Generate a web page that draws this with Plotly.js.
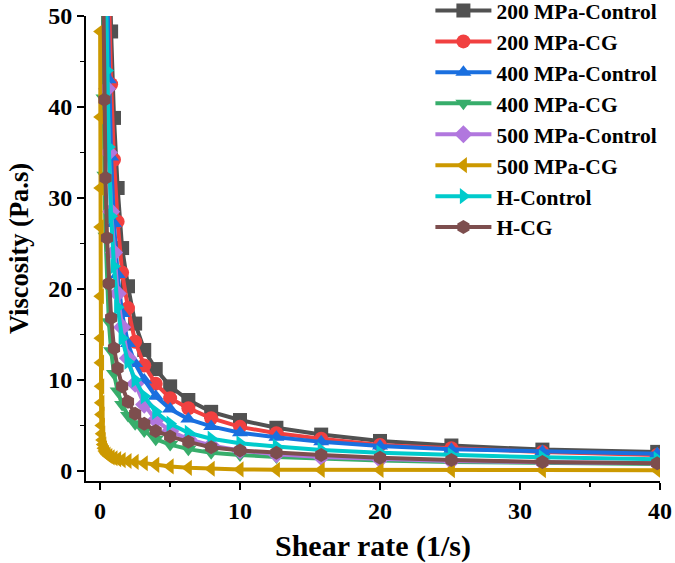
<!DOCTYPE html>
<html>
<head>
<meta charset="utf-8">
<script src="https://cdn.plot.ly/plotly-3.0.1.min.js"></script>
<style>
  html, body { margin: 0; padding: 0; background: #ffffff; }
  #chart { width: 675px; height: 563px; }
</style>
</head>
<body>
<div id="chart"></div>
<script>
// Shear rate grid (1/s), log-spaced, 10 points per decade
const shearRate = [0.01, 0.0126, 0.0158, 0.02, 0.0251, 0.0316, 0.0398, 0.0501, 0.0631, 0.0794,
  0.1, 0.126, 0.158, 0.2, 0.251, 0.316, 0.398, 0.501, 0.631, 0.794,
  1, 1.26, 1.58, 2, 2.51, 3.16, 3.98, 5.01, 6.31, 7.94,
  10, 12.6, 15.8, 20, 25.1, 31.6, 39.8];

const seriesNames = ["200 MPa-Control", "200 MPa-CG", "400 MPa-Control", "400 MPa-CG",
  "500 MPa-Control", "500 MPa-CG", "H-Control", "H-CG"];

// Viscosity (Pa.s); null = off the visible range (not drawn)
const visc200Control = [null, null, null, null, null, null, null, null, null, null,
  null, null, null, null, null, null, null, null, 60, 48.3,
  38.8, 31.1, 24.5, 20.3, 16.2, 13.3, 11.2, 9.3, 7.8, 6.5,
  5.6, 4.75, 4.0, 3.3, 2.8, 2.35, 2.1];
const visc200CG = [null, null, null, null, null, null, null, null, null, null,
  null, null, null, null, null, null, null, null, 53, 42.5,
  34.2, 27.4, 21.8, 17.9, 14.2, 11.6, 9.6, 8.0, 6.9, 5.8,
  4.85, 4.15, 3.55, 2.85, 2.5, 2.1, 1.75];
const visc400Control = [null, null, null, null, null, null, null, null, null, null,
  null, null, null, null, null, null, null, 54, 43, 34.5,
  27.2, 21.6, 17.3, 14.0, 11.8, 10.0, 8.2, 6.8, 5.7, 4.9,
  4.2, 3.7, 3.2, 2.75, 2.4, 2.15, 1.9];
const visc400CG = [null, null, null, null, null, null, null, null, null, null,
  null, null, null, 52, 41, 32.5, 25.8, 20.5, 16.4, 13.2,
  10.7, 8.8, 7.3, 6.1, 5.2, 4.4, 3.5, 2.9, 2.4, 2.0,
  1.75, 1.55, 1.35, 1.15, 1.0, 0.87, 0.76];
const visc500Control = [null, null, null, null, null, null, null, null, null, null,
  null, null, null, null, null, null, 51, 42, 35, 28.5,
  24, 19.5, 15.8, 12.4, 9.6, 7.3, 5.6, 4.4, 3.5, 2.8,
  2.25, 1.85, 1.55, 1.3, 1.1, 0.95, 0.85];
const visc500CG = [48.3, 38.9, 31.1, 26.8, 19.2, 14.6, 11.9, 9.3, 7.5, 6.2,
  5.0, 4.1, 3.4, 2.9, 2.5, 2.2, 2.0, 1.8, 1.65, 1.5,
  1.4, 1.3, 1.2, 1.1, 1.0, 0.85, 0.68, 0.5, 0.35, 0.25,
  0.17, 0.14, 0.12, 0.11, 0.1, 0.1, 0.09];
const viscHControl = [null, null, null, null, null, null, null, null, null, null,
  null, null, null, null, null, null, 55, 44, 35.6, 28,
  22.5, 18.0, 14.6, 12.0, 10.0, 8.2, 6.5, 5.2, 4.2, 3.55,
  3.05, 2.7, 2.3, 2.0, 1.75, 1.5, 1.3];
const viscHCG = [null, null, null, null, null, null, null, null, null, null,
  null, null, null, null, 51, 40.8, 32.2, 25.6, 20.6, 16.8,
  13.5, 11.3, 9.3, 7.6, 6.3, 5.2, 4.4, 3.8, 3.2, 2.6,
  2.25, 2.0, 1.75, 1.45, 1.2, 1.0, 0.85];

const allSeries = [visc200Control, visc200CG, visc400Control, visc400CG,
  visc500Control, visc500CG, viscHControl, viscHCG];

const colors = ["#515151", "#F14040", "#1A6FDF", "#37AD6B", "#B177DE", "#CC9900", "#00CBCC", "#7D4E4E"];
const symbols = ["square", "circle", "triangle-up", "triangle-down", "diamond", "triangle-left", "triangle-right", "hexagon"];

const xTickVals = [0, 10, 20, 30, 40];
const yTickVals = [0, 10, 20, 30, 40, 50];

const traces = allSeries.map((vals, i) => ({
  type: "scatter",
  mode: "lines+markers",
  name: seriesNames[i],
  x: shearRate,
  y: vals,
  connectgaps: false,
  line: { color: colors[i], width: 4 },
  marker: { symbol: symbols[i], color: colors[i], size: 14, line: { width: 0 } },
  cliponaxis: true
}));

const fontFam = "Liberation Serif, Times New Roman, serif";

const layout = {
  width: 675,
  height: 563,
  margin: { l: 86, r: 15, t: 16, b: 82, autoexpand: false },
  paper_bgcolor: "#ffffff",
  plot_bgcolor: "#ffffff",
  showlegend: true,
  legend: {
    x: 0.6, y: 1.056, xanchor: "left", yanchor: "top",
    bgcolor: "rgba(0,0,0,0)",
    itemwidth: 56,
    tracegroupgap: 0,
    font: { family: fontFam, size: 21.5, color: "#000000", weight: "bold" }
  },
  xaxis: {
    range: [-1, 40],
    tickvals: xTickVals,
    ticktext: xTickVals.map(String),
    showline: true, linecolor: "#000000", linewidth: 2,
    ticks: "outside", ticklen: 7, tickwidth: 2, tickcolor: "#000000",
    minor: { ticks: "outside", dtick: 5, tick0: 0, ticklen: 4, tickwidth: 1.5, tickcolor: "#000000" },
    showgrid: false, zeroline: false,
    tickfont: { family: fontFam, size: 24, color: "#000000", weight: "bold" },
    title: { text: "Shear rate (1/s)", font: { family: fontFam, size: 30, color: "#000000", weight: "bold" }, standoff: 14 }
  },
  yaxis: {
    range: [-1.1, 50],
    tickvals: yTickVals,
    ticktext: yTickVals.map(String),
    showline: true, linecolor: "#000000", linewidth: 2,
    ticks: "outside", ticklen: 7, tickwidth: 2, tickcolor: "#000000",
    minor: { ticks: "outside", dtick: 5, tick0: 0, ticklen: 4, tickwidth: 1.5, tickcolor: "#000000" },
    showgrid: false, zeroline: false,
    tickfont: { family: fontFam, size: 24, color: "#000000", weight: "bold" },
    title: { text: "Viscosity (Pa.s)", font: { family: fontFam, size: 26.5, color: "#000000", weight: "bold" }, standoff: 12 }
  }
};

Plotly.newPlot("chart", traces, layout, { displayModeBar: false, staticPlot: true });
</script>
</body>
</html>
